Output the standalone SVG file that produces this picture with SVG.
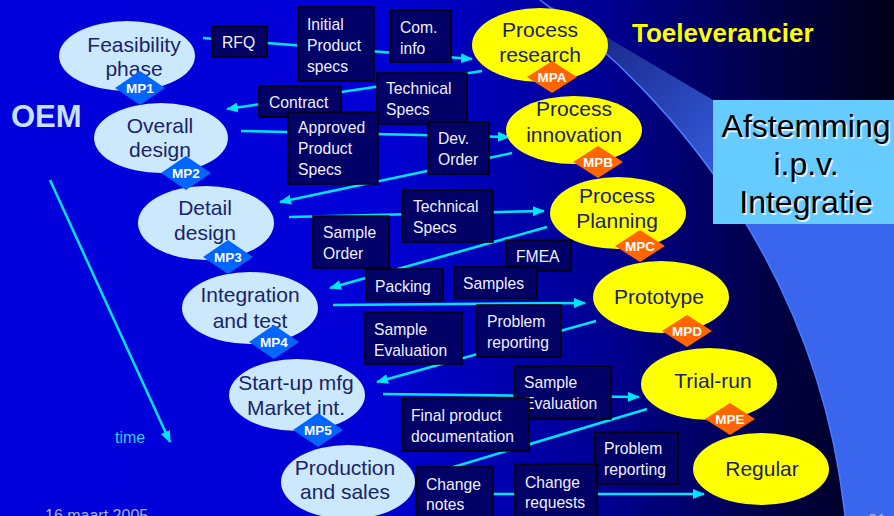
<svg xmlns="http://www.w3.org/2000/svg" width="894" height="516" viewBox="0 0 894 516">
<defs>
 <linearGradient id="bg" x1="0" y1="0" x2="894" y2="0" gradientUnits="userSpaceOnUse">
  <stop offset="0" stop-color="#0000dc"/>
  <stop offset="0.42" stop-color="#0000d6"/>
  <stop offset="0.68" stop-color="#000090"/>
  <stop offset="0.85" stop-color="#00004a"/>
  <stop offset="1" stop-color="#000018"/>
 </linearGradient>
 <linearGradient id="lite" x1="600" y1="40" x2="770" y2="180" gradientUnits="userSpaceOnUse">
  <stop offset="0" stop-color="#1a2a8c"/>
  <stop offset="1" stop-color="#3a66ee"/>
 </linearGradient>
 <marker id="ah" markerWidth="12" markerHeight="10" refX="11" refY="5" orient="auto" markerUnits="userSpaceOnUse">
  <path d="M0,0 L12,5 L0,10 Z" fill="#00e5ff"/>
 </marker>
 <style>
  .conn{stroke:#00e5ff;stroke-width:2.5;fill:none}
  .oval{fill:#cce8fc}
  .yel{fill:#ffff00}
  .nt{font-family:"Liberation Sans",Arial,sans-serif;font-size:21px;fill:#1a2468;text-anchor:middle}
  .box{fill:#000066;stroke:#000000;stroke-width:1.5}
  .bt{font-family:"Liberation Sans",Arial,sans-serif;font-size:15.7px;fill:#f0f0ff}
  .db{fill:#0066ff}
  .do{fill:#ff6600}
  .dt{font-family:"Liberation Sans",Arial,sans-serif;font-size:13.5px;font-weight:bold;fill:#ffffff;text-anchor:middle}
  .big{font-family:"Liberation Sans",Arial,sans-serif;font-size:32px;text-anchor:middle}
 </style>
</defs>
<rect x="0" y="0" width="894" height="516" fill="url(#bg)"/>
<path d="M540,0 C680,100 820,280 845,516 L894,516 L894,100 L713,100 L603,35 Z" fill="url(#lite)"/>
<path d="M540,0 C680,100 820,280 845,516" fill="none" stroke="#4a7aff" stroke-width="1.5"/>

<text x="632" y="42" font-family="Liberation Sans, Arial, sans-serif" font-size="26" font-weight="bold" fill="#ffff00">Toeleverancier</text>
<text x="11" y="127" font-family="Liberation Sans, Arial, sans-serif" font-size="31" font-weight="bold" fill="#c8e0ff">OEM</text>
<text x="115" y="443" font-family="Liberation Sans, Arial, sans-serif" font-size="16" fill="#33ccff">time</text>
<text x="45" y="521" font-family="Liberation Sans, Arial, sans-serif" font-size="16" fill="#a8b0e0">16 maart 2005</text>
<text x="868" y="526" font-family="Liberation Sans, Arial, sans-serif" font-size="16" fill="#a8b0e0">21</text>

<g id="afstemming">
 <rect x="713" y="100" width="181" height="124" fill="#66ccff"/>
 <g class="big" fill="#ffffff" opacity="0.8">
  <text x="807.5" y="138.5">Afstemming</text>
  <text x="807.5" y="176.5">i.p.v.</text>
  <text x="807.5" y="214.5">Integratie</text>
 </g>
 <g class="big" fill="#000000">
  <text x="806" y="137">Afstemming</text>
  <text x="806" y="175">i.p.v.</text>
  <text x="806" y="213">Integratie</text>
 </g>
</g>

<g id="connectors">
 <line class="conn" x1="50" y1="180" x2="170" y2="442" stroke-width="3" marker-end="url(#ah)"/>
 <line class="conn" x1="203" y1="38" x2="472" y2="59" marker-end="url(#ah)"/>
 <line class="conn" x1="482" y1="71" x2="227" y2="109" marker-end="url(#ah)"/>
 <line class="conn" x1="241" y1="131" x2="509" y2="137" marker-end="url(#ah)"/>
 <line class="conn" x1="512" y1="153" x2="280" y2="202" marker-end="url(#ah)"/>
 <line class="conn" x1="289" y1="217" x2="544" y2="211" marker-end="url(#ah)"/>
 <line class="conn" x1="547" y1="227" x2="330" y2="288" marker-end="url(#ah)"/>
 <line class="conn" x1="333" y1="305" x2="585" y2="303" marker-end="url(#ah)"/>
 <line class="conn" x1="596" y1="321" x2="377" y2="382" marker-end="url(#ah)"/>
 <line class="conn" x1="383" y1="394" x2="639" y2="397" marker-end="url(#ah)"/>
 <line class="conn" x1="647" y1="409" x2="430" y2="474"/>
 <line class="conn" x1="420" y1="494" x2="704" y2="494" marker-end="url(#ah)"/>
</g>

<g id="feasibility">
 <ellipse class="oval" cx="127" cy="56" rx="68" ry="35"/>
 <text class="nt" x="134" y="52">Feasibility</text>
 <text class="nt" x="134" y="76">phase</text>
</g>
<g id="overall">
 <ellipse class="oval" cx="161" cy="138" rx="67" ry="35"/>
 <text class="nt" x="160" y="133">Overall</text>
 <text class="nt" x="160" y="157">design</text>
</g>
<g id="detail">
 <ellipse class="oval" cx="206" cy="223" rx="68" ry="37"/>
 <text class="nt" x="205" y="215">Detail</text>
 <text class="nt" x="205" y="240">design</text>
</g>
<g id="integration">
 <ellipse class="oval" cx="250" cy="308" rx="68" ry="36"/>
 <text class="nt" x="250" y="302">Integration</text>
 <text class="nt" x="250" y="328">and test</text>
</g>
<g id="startup">
 <ellipse class="oval" cx="297" cy="395" rx="68" ry="36"/>
 <text class="nt" x="296" y="390">Start-up mfg</text>
 <text class="nt" x="296" y="415">Market int.</text>
</g>
<g id="production">
 <ellipse class="oval" cx="348" cy="482" rx="67" ry="37"/>
 <text class="nt" x="345" y="475">Production</text>
 <text class="nt" x="345" y="499">and sales</text>
</g>
<g id="research">
 <ellipse class="yel" cx="540" cy="45" rx="68" ry="37"/>
 <text class="nt" x="540" y="37">Process</text>
 <text class="nt" x="540" y="62">research</text>
</g>
<g id="innovation">
 <ellipse class="yel" cx="574" cy="130" rx="68" ry="34"/>
 <text class="nt" x="574" y="116">Process</text>
 <text class="nt" x="574" y="142">innovation</text>
</g>
<g id="planning">
 <ellipse class="yel" cx="618" cy="213" rx="68" ry="36"/>
 <text class="nt" x="617" y="203">Process</text>
 <text class="nt" x="617" y="228">Planning</text>
</g>
<g id="prototype">
 <ellipse class="yel" cx="661" cy="297" rx="68" ry="36"/>
 <text class="nt" x="659" y="304">Prototype</text>
</g>
<g id="trialrun">
 <ellipse class="yel" cx="709" cy="384" rx="68" ry="36"/>
 <text class="nt" x="713" y="388">Trial-run</text>
</g>
<g id="regular">
 <ellipse class="yel" cx="761" cy="469" rx="68" ry="36"/>
 <text class="nt" x="762" y="476">Regular</text>
</g>

<g id="mp1"><polygon class="db" points="115,88 140,71 165,88 140,105"/><text class="dt" x="140" y="93">MP1</text></g>
<g id="mp2"><polygon class="db" points="161,173 186,156 211,173 186,190"/><text class="dt" x="186" y="178">MP2</text></g>
<g id="mp3"><polygon class="db" points="203,257 228,240 253,257 228,274"/><text class="dt" x="228" y="262">MP3</text></g>
<g id="mp4"><polygon class="db" points="249,342 274,325 299,342 274,359"/><text class="dt" x="274" y="347">MP4</text></g>
<g id="mp5"><polygon class="db" points="293,430 318,413 343,430 318,447"/><text class="dt" x="318" y="435">MP5</text></g>
<g id="mpa"><polygon class="do" points="527,77 552,61 577,77 552,93"/><text class="dt" x="552" y="82">MPA</text></g>
<g id="mpb"><polygon class="do" points="573,162 598,146 623,162 598,178"/><text class="dt" x="598" y="167">MPB</text></g>
<g id="mpc"><polygon class="do" points="615,246 640,230 665,246 640,262"/><text class="dt" x="640" y="251">MPC</text></g>
<g id="mpd"><polygon class="do" points="662,331 687,315 712,331 687,347"/><text class="dt" x="687" y="336">MPD</text></g>
<g id="mpe"><polygon class="do" points="705,419 730,403 755,419 730,435"/><text class="dt" x="730" y="424">MPE</text></g>

<g id="lbl-rfq"><rect class="box" x="212" y="26" width="55" height="31"/><text class="bt" x="222" y="48">RFQ</text></g>
<g id="lbl-initial"><rect class="box" x="298" y="7" width="76" height="74"/><text class="bt" x="307" y="30">Initial</text><text class="bt" x="307" y="51">Product</text><text class="bt" x="307" y="72">specs</text></g>
<g id="lbl-com"><rect class="box" x="390" y="10" width="61" height="52"/><text class="bt" x="400" y="33">Com.</text><text class="bt" x="400" y="54">info</text></g>
<g id="lbl-tech1"><rect class="box" x="377" y="73" width="90" height="51"/><text class="bt" x="386" y="94">Technical</text><text class="bt" x="386" y="115">Specs</text></g>
<g id="lbl-contract"><rect class="box" x="259" y="86" width="82" height="31"/><text class="bt" x="269" y="108">Contract</text></g>
<g id="lbl-approved"><rect class="box" x="288" y="112" width="90" height="72"/><text class="bt" x="298" y="133">Approved</text><text class="bt" x="298" y="154">Product</text><text class="bt" x="298" y="175">Specs</text></g>
<g id="lbl-dev"><rect class="box" x="428" y="122" width="61" height="52"/><text class="bt" x="438" y="144">Dev.</text><text class="bt" x="438" y="165">Order</text></g>
<g id="lbl-tech2"><rect class="box" x="402" y="190" width="91" height="52"/><text class="bt" x="413" y="212">Technical</text><text class="bt" x="413" y="233">Specs</text></g>
<g id="lbl-sampleorder"><rect class="box" x="313" y="216" width="76" height="52"/><text class="bt" x="323" y="238">Sample</text><text class="bt" x="323" y="259">Order</text></g>
<g id="lbl-fmea"><rect class="box" x="506" y="240" width="65" height="31"/><text class="bt" x="516" y="262">FMEA</text></g>
<g id="lbl-packing"><rect class="box" x="366" y="269" width="77" height="31"/><text class="bt" x="375" y="292">Packing</text></g>
<g id="lbl-samples"><rect class="box" x="454" y="267" width="83" height="31"/><text class="bt" x="463" y="289">Samples</text></g>
<g id="lbl-sampleeval1"><rect class="box" x="365" y="312" width="97" height="52"/><text class="bt" x="374" y="335">Sample</text><text class="bt" x="374" y="356">Evaluation</text></g>
<g id="lbl-problem1"><rect class="box" x="477" y="305" width="84" height="52"/><text class="bt" x="487" y="327">Problem</text><text class="bt" x="487" y="348">reporting</text></g>
<g id="lbl-sampleeval2"><rect class="box" x="514" y="366" width="97" height="53"/><text class="bt" x="524" y="388">Sample</text><text class="bt" x="524" y="409">Evaluation</text></g>
<g id="lbl-final"><rect class="box" x="402" y="398" width="127" height="53"/><text class="bt" x="411" y="421">Final product</text><text class="bt" x="411" y="442">documentation</text></g>
<g id="lbl-problem2"><rect class="box" x="594" y="432" width="84" height="52"/><text class="bt" x="604" y="454">Problem</text><text class="bt" x="604" y="475">reporting</text></g>
<g id="lbl-changenotes"><rect class="box" x="416" y="467" width="77" height="55"/><text class="bt" x="426" y="490">Change</text><text class="bt" x="426" y="510">notes</text></g>
<g id="lbl-changereq"><rect class="box" x="515" y="464" width="82" height="58"/><text class="bt" x="525" y="488">Change</text><text class="bt" x="525" y="508">requests</text></g>
</svg>
